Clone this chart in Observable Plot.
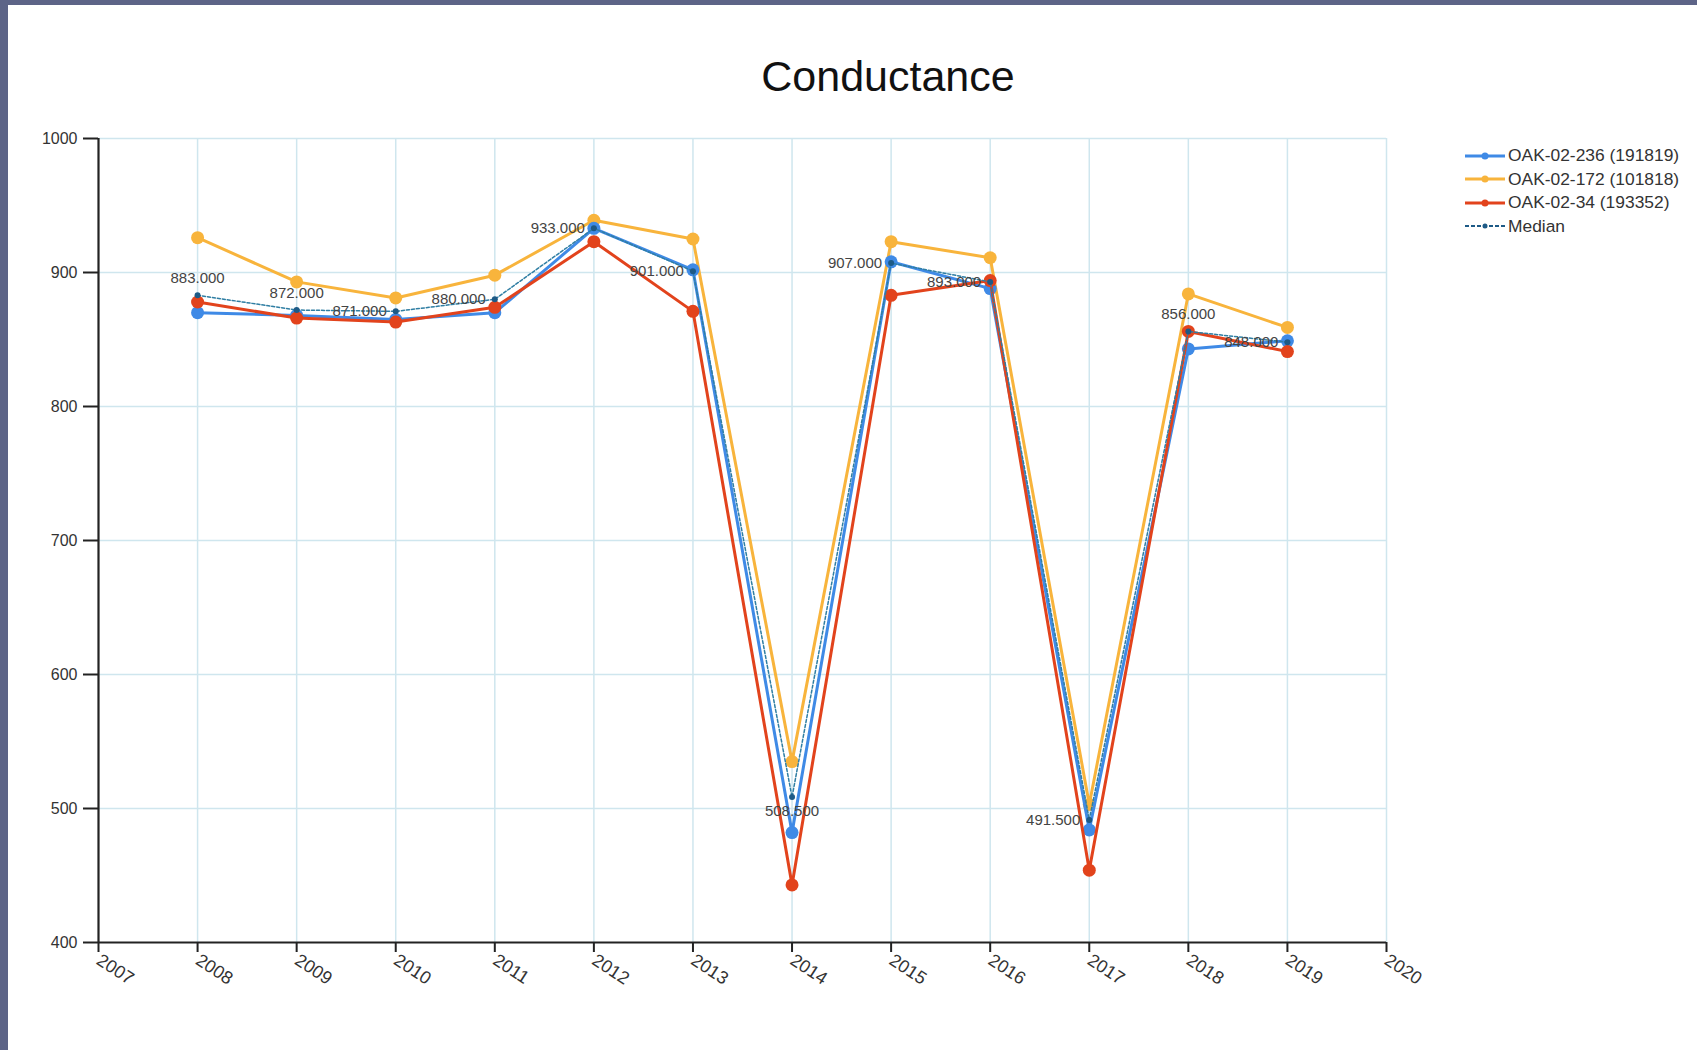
<!DOCTYPE html>
<html>
<head>
<meta charset="utf-8">
<script src="https://cdn.jsdelivr.net/npm/d3@7"></script>
<script src="https://cdn.jsdelivr.net/npm/@observablehq/plot@0.6"></script>
<style>
  html, body { margin: 0; padding: 0; width: 1697px; height: 1050px; overflow: hidden; background: #5d6487; font-family: "Liberation Sans", Arial, sans-serif; }
  #page { position: absolute; left: 8px; top: 5px; right: 0; bottom: 0; background: #fff; }
  #chart { position: absolute; left: 0; top: 0; }
  #title { position: absolute; left: 0; width: 1776px; top: 52px; text-align: center; font-size: 43px; color: #111; }
  #legend { position: absolute; left: 1465px; top: 144px; font-size: 17.4px; color: #333; }
  #legend .row { display: flex; align-items: center; height: 23.5px; }
  #legend svg { margin-right: 3px; }
</style>
</head>
<body>
<div id="page"></div>
<div id="chart"></div>
<div id="title">Conductance</div>
<div id="legend"></div>
<script>
const years = [2008, 2009, 2010, 2011, 2012, 2013, 2014, 2015, 2016, 2017, 2018, 2019];
const oak236 = [870, 868, 865, 870, 933, 902, 482, 908, 888, 484, 843, 849];
const oak172 = [926, 893, 881, 898, 939, 925, 535, 923, 911, 503, 884, 859];
const oak34  = [878, 866, 863, 874, 923, 871, 443, 883, 894, 454, 856, 841];
const median = [883, 872, 871, 880, 933, 901, 508.5, 907, 893, 491.5, 856, 848];
const seriesNames = ["OAK-02-236 (191819)", "OAK-02-172 (101818)", "OAK-02-34 (193352)", "Median"];
const xTicks = [2007, 2008, 2009, 2010, 2011, 2012, 2013, 2014, 2015, 2016, 2017, 2018, 2019, 2020];
const yTicks = [400, 500, 600, 700, 800, 900, 1000];

const colors = { blue: "#3f8ae6", orange: "#f8b43c", red: "#e2431c", med: "#1d5a86" };

const rows = (vals) => years.map((y, i) => ({ year: y, value: vals[i] }));
const medRows = rows(median);
const above = [2008, 2009, 2018];
const below = [2014];
const labelTop = medRows.filter(d => above.includes(d.year));
const labelBelow = medRows.filter(d => below.includes(d.year));
const labelLeft = medRows.filter(d => !above.includes(d.year) && !below.includes(d.year));
const fmt = d3.format(".3f");

const plot = Plot.plot({
  width: 1697,
  height: 1050,
  marginLeft: 98,
  marginRight: 311,
  marginTop: 138,
  marginBottom: 108,
  style: { background: "transparent", fontFamily: "Liberation Sans, Arial, sans-serif" },
  x: { domain: [2007, 2020], label: null },
  y: { domain: [400, 1000], label: null },
  marks: [
    Plot.ruleX(xTicks.slice(1), { stroke: "#cfe6ee", strokeWidth: 1.5 }),
    Plot.ruleY(yTicks.slice(1), { stroke: "#cfe6ee", strokeWidth: 1.5 }),
    Plot.line(rows(oak172), { x: "year", y: "value", stroke: colors.orange, strokeWidth: 3 }),
    Plot.dot(rows(oak172), { x: "year", y: "value", fill: colors.orange, r: 6.5 }),
    Plot.line(rows(oak236), { x: "year", y: "value", stroke: colors.blue, strokeWidth: 3 }),
    Plot.dot(rows(oak236), { x: "year", y: "value", fill: colors.blue, r: 6.5 }),
    Plot.line(rows(oak34), { x: "year", y: "value", stroke: colors.red, strokeWidth: 3 }),
    Plot.dot(rows(oak34), { x: "year", y: "value", fill: colors.red, r: 6.5 }),
    Plot.line(medRows, { x: "year", y: "value", stroke: "#2f7ea3", strokeWidth: 1.5, strokeDasharray: "3,2" }),
    Plot.dot(medRows, { x: "year", y: "value", fill: colors.med, r: 3 }),
    Plot.text(labelTop, { x: "year", y: "value", text: d => fmt(d.value), dy: -17, fontSize: 15, fill: "#444", textAnchor: "middle" }),
    Plot.text(labelBelow, { x: "year", y: "value", text: d => fmt(d.value), dy: 14, fontSize: 15, fill: "#444", textAnchor: "middle" }),
    Plot.text(labelLeft, { x: "year", y: "value", text: d => fmt(d.value), dx: -9, fontSize: 15, fill: "#444", textAnchor: "end" }),
    Plot.ruleX([2007], { stroke: "#222", strokeWidth: 2.2 }),
    Plot.ruleY([400], { stroke: "#222", strokeWidth: 2.2 }),
    Plot.axisY({ ticks: yTicks, tickFormat: d => String(d), label: null, tickSize: 15, tickPadding: 6, fontSize: 16, color: "#333", stroke: "#222", strokeWidth: 2 }),
    Plot.axisX({ ticks: xTicks, tickFormat: d => String(d), label: null, tickSize: 10, tickPadding: 6, tickRotate: 33, textAnchor: "start", fontSize: 18, color: "#333", stroke: "#222", strokeWidth: 2 })
  ]
});
document.getElementById("chart").appendChild(plot);

// Legend
const legendSpecs = [
  { name: seriesNames[0], color: colors.blue, dash: null, r: 3.5, w: 3 },
  { name: seriesNames[1], color: colors.orange, dash: null, r: 3.5, w: 3 },
  { name: seriesNames[2], color: colors.red, dash: null, r: 3.5, w: 3 },
  { name: seriesNames[3], color: colors.med, dash: "4,2", r: 2.5, w: 2 }
];
const legend = d3.select("#legend");
for (const s of legendSpecs) {
  const row = legend.append("div").attr("class", "row");
  const sv = row.append("svg").attr("width", 40).attr("height", 12);
  sv.append("line").attr("x1", 0).attr("x2", 40).attr("y1", 6).attr("y2", 6)
    .attr("stroke", s.color).attr("stroke-width", s.w).attr("stroke-dasharray", s.dash);
  sv.append("circle").attr("cx", 20).attr("cy", 6).attr("r", s.r).attr("fill", s.color);
  row.append("span").text(s.name);
}
</script>
</body>
</html>
